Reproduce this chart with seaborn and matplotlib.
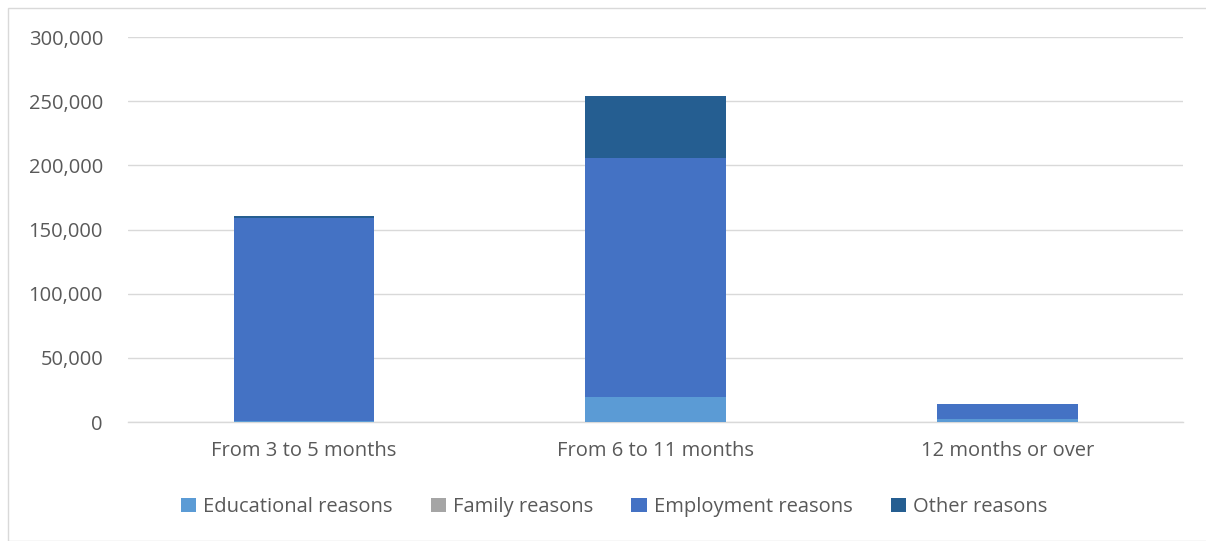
import matplotlib
matplotlib.use("Agg")
import matplotlib.pyplot as plt
import seaborn as sns
import numpy as np
import pandas as pd
from matplotlib.patches import Rectangle, Patch
from matplotlib.ticker import FuncFormatter

categories = ["From 3 to 5 months", "From 6 to 11 months", "12 months or over"]
series_names = ["Educational reasons", "Family reasons", "Employment reasons", "Other reasons"]
educational = [600, 19700, 2600]
family = [100, 100, 100]
employment = [158600, 185700, 11000]
other = [1500, 48800, 300]
colors = ["#5B9BD5", "#A5A5A5", "#4472C4", "#255E91"]
yticks = [0, 50000, 100000, 150000, 200000, 250000, 300000]

sns.set_theme(style="white")
plt.rcParams['font.family'] = ['Open Sans', 'DejaVu Sans']

fig = plt.figure(figsize=(12.06, 5.41), dpi=100)
ax = fig.add_axes([128/1206, 1 - 422/541, (1183-128)/1206, (422-37)/541])

series = [educational, family, employment, other]
cum = np.cumsum(np.array(series), axis=0)
for i in range(len(series) - 1, -1, -1):
    df = pd.DataFrame({"cat": categories, "val": cum[i]})
    sns.barplot(data=df, x="cat", y="val", color=colors[i], width=0.4,
                saturation=1, ax=ax, zorder=3, linewidth=0, edgecolor="none")

ax.set_ylim(0, 300000)
ax.set_xlim(-0.5, 2.5)
ax.set_yticks(yticks)
ax.yaxis.set_major_formatter(FuncFormatter(lambda v, p: f"{int(v):,}"))
ax.grid(axis="y", color="#D9D9D9", linewidth=1, zorder=0)
ax.set_axisbelow(True)
for s in ["top", "right", "left"]:
    ax.spines[s].set_visible(False)
ax.spines["bottom"].set_color("#D9D9D9")
ax.spines["bottom"].set_linewidth(1)
ax.set_xlabel("")
ax.set_ylabel("")
ax.tick_params(axis="both", length=0, colors="#595959", labelsize=14.5)
ax.tick_params(axis="y", pad=18)
ax.tick_params(axis="x", pad=14)

handles = [Patch(facecolor=c, edgecolor="none") for c in colors]
fig.legend(handles, series_names, loc="center", bbox_to_anchor=(614/1206, 1 - 507/541),
           ncol=4, frameon=False, fontsize=14.5, handlelength=0.75, handleheight=0.75,
           handletextpad=0.35, columnspacing=1.9, labelcolor="#595959")

fig.patches.append(Rectangle((8/1206, 0), 1.2, 1 - 8/541, transform=fig.transFigure,
                             fill=False, edgecolor="#D9D9D9", linewidth=1))

fig.savefig("out.png", dpi=100)
